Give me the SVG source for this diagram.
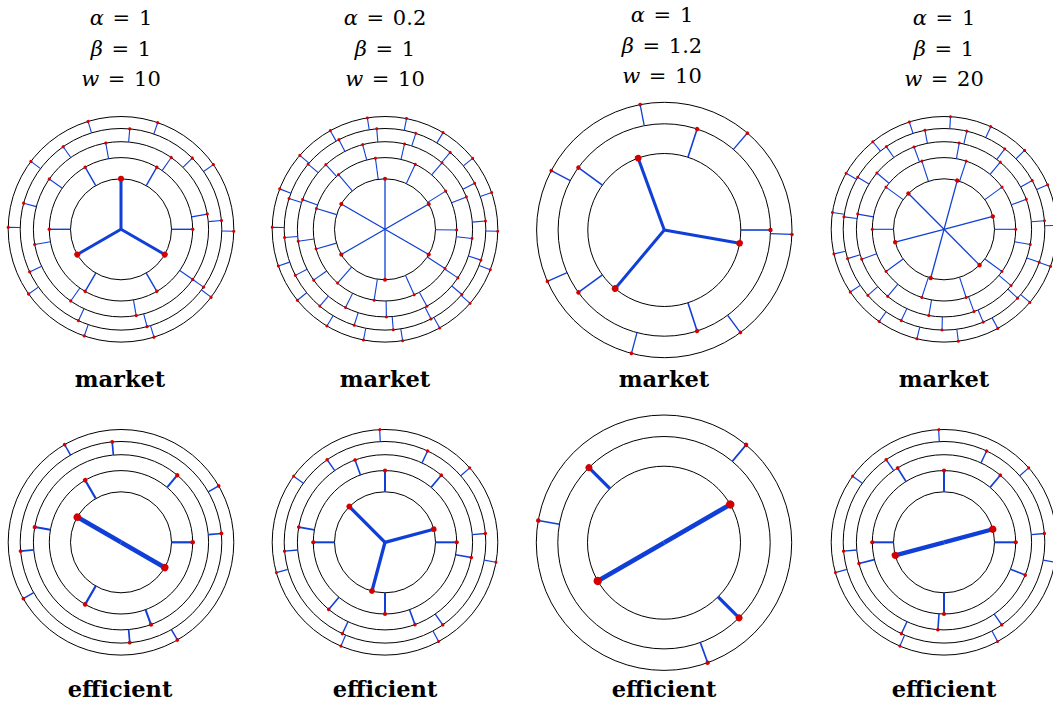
<svg xmlns="http://www.w3.org/2000/svg" xmlns:xlink="http://www.w3.org/1999/xlink" width="1053" height="707" viewBox="0 0 1053 707">
<style>
.ring{fill:none;stroke:#000;stroke-width:1}
.e{stroke:#0f3fd6;fill:none}
.d{fill:#d40000}
.m{font-family:"DejaVu Serif","Liberation Serif",serif;font-size:21px;text-anchor:middle;word-spacing:2px;fill:#000}
.i{font-style:italic}
.lab{font-family:"DejaVu Serif",serif;font-weight:bold;font-size:22.5px;text-anchor:middle;fill:#000}
</style>
<defs>
<g id="rings5"><circle class="ring" r="50.5"/><circle class="ring" r="71.7"/><circle class="ring" r="87.6"/><circle class="ring" r="100.8"/><circle class="ring" r="112.8"/></g>
<g id="rings3"><circle class="ring" r="76.5"/><circle class="ring" r="106.2"/><circle class="ring" r="127.7"/></g>
<g id="p1a"><line class="e" x1="0" x2="50.5" stroke-width="3"/><circle class="d" cx="50.5" r="3"/></g>
<g id="p1b"><line class="e" x1="50.5" x2="71.7" stroke-width="1.4"/><circle class="d" cx="71.7" r="1.7"/></g>
<g id="p1c"><line class="e" x1="71.7" x2="87.6" stroke-width="1.1"/><circle class="d" cx="87.6" r="1.6"/></g>
<g id="p1d"><line class="e" x1="87.6" x2="100.8" stroke-width="1.1"/><circle class="d" cx="100.8" r="1.6"/></g>
<g id="p1e"><line class="e" x1="100.8" x2="112.8" stroke-width="1.1"/><circle class="d" cx="112.8" r="1.6"/></g>
<g id="p2a"><line class="e" x1="0" x2="50.5" stroke-width="1.3"/><circle class="d" cx="50.5" r="2"/></g>
<g id="p4a"><line class="e" x1="0" x2="50.5" stroke-width="1.3"/><circle class="d" cx="50.5" r="2.2"/></g>
<g id="p2b"><line class="e" x1="50.5" x2="71.7" stroke-width="1.1"/><circle class="d" cx="71.7" r="1.5"/></g>
<g id="p2c"><line class="e" x1="71.7" x2="87.6" stroke-width="1.1"/><circle class="d" cx="87.6" r="1.5"/></g>
<g id="p2d"><line class="e" x1="87.6" x2="100.8" stroke-width="1.1"/><circle class="d" cx="100.8" r="1.5"/></g>
<g id="p2e"><line class="e" x1="100.8" x2="112.8" stroke-width="1.1"/><circle class="d" cx="112.8" r="1.5"/></g>
<g id="p3a"><line class="e" x1="0" x2="76.5" stroke-width="3"/><circle class="d" cx="76.5" r="3.3"/></g>
<g id="p3b"><line class="e" x1="76.5" x2="106.2" stroke-width="1.6"/><circle class="d" cx="106.2" r="2.2"/></g>
<g id="p3c"><line class="e" x1="106.2" x2="127.7" stroke-width="1.3"/><circle class="d" cx="127.7" r="1.8"/></g>
<g id="p5a"><line class="e" x1="0" x2="50.5" stroke-width="4.5"/><circle class="d" cx="50.5" r="3.7"/></g>
<g id="p5b"><line class="e" x1="50.5" x2="71.7" stroke-width="2.2"/><circle class="d" cx="71.7" r="2.3"/></g>
<g id="p5c"><line class="e" x1="71.7" x2="87.6" stroke-width="2"/><circle class="d" cx="87.6" r="2.1"/></g>
<g id="p5d"><line class="e" x1="87.6" x2="100.8" stroke-width="1.7"/><circle class="d" cx="100.8" r="1.9"/></g>
<g id="p5e"><line class="e" x1="100.8" x2="112.8" stroke-width="1.5"/><circle class="d" cx="112.8" r="1.8"/></g>
<g id="p6a"><line class="e" x1="0" x2="50.5" stroke-width="3.3"/><circle class="d" cx="50.5" r="2.8"/></g>
<g id="p8a"><line class="e" x1="0" x2="50.5" stroke-width="4.3"/><circle class="d" cx="50.5" r="3.6"/></g>
<g id="p6b"><line class="e" x1="50.5" x2="71.7" stroke-width="2"/><circle class="d" cx="71.7" r="2.1"/></g>
<g id="p6c"><line class="e" x1="71.7" x2="87.6" stroke-width="1.6"/><circle class="d" cx="87.6" r="1.8"/></g>
<g id="p6d"><line class="e" x1="87.6" x2="100.8" stroke-width="1.4"/><circle class="d" cx="100.8" r="1.7"/></g>
<g id="p6e"><line class="e" x1="100.8" x2="112.8" stroke-width="1.2"/><circle class="d" cx="112.8" r="1.5"/></g>
<g id="p7a"><line class="e" x1="0" x2="76.5" stroke-width="4.7"/><circle class="d" cx="76.5" r="4.2"/></g>
<g id="p7b"><line class="e" x1="76.5" x2="106.2" stroke-width="3.2"/><circle class="d" cx="106.2" r="3.4"/></g>
<g id="p7c"><line class="e" x1="106.2" x2="127.7" stroke-width="1.7"/><circle class="d" cx="127.7" r="2.2"/></g>
</defs>

<g id="labels">
<text class="m" x="121" y="25"><tspan class="i">α</tspan> = 1</text>
<text class="m" x="121" y="56"><tspan class="i">β</tspan> = 1</text>
<text class="m" x="121" y="86"><tspan class="i">w</tspan> = 10</text>
<text class="m" x="385" y="25"><tspan class="i">α</tspan> = 0.2</text>
<text class="m" x="385" y="56"><tspan class="i">β</tspan> = 1</text>
<text class="m" x="385" y="86"><tspan class="i">w</tspan> = 10</text>
<text class="m" x="662" y="22"><tspan class="i">α</tspan> = 1</text>
<text class="m" x="662" y="53"><tspan class="i">β</tspan> = 1.2</text>
<text class="m" x="662" y="83"><tspan class="i">w</tspan> = 10</text>
<text class="m" x="944" y="25"><tspan class="i">α</tspan> = 1</text>
<text class="m" x="944" y="56"><tspan class="i">β</tspan> = 1</text>
<text class="m" x="944" y="86"><tspan class="i">w</tspan> = 20</text>
<text class="lab" x="120" y="387">market</text>
<text class="lab" x="385" y="387">market</text>
<text class="lab" x="664" y="387">market</text>
<text class="lab" x="944" y="387">market</text>
<text class="lab" x="120" y="697">efficient</text>
<text class="lab" x="385" y="697">efficient</text>
<text class="lab" x="664" y="697">efficient</text>
<text class="lab" x="944" y="697">efficient</text>
</g>

<g id="panel1" transform="translate(121,229.3)">
<use href="#rings5"/>
<g id="p1-connectors">
<use href="#p1a" transform="rotate(-90)"/><use href="#p1a" transform="rotate(-210)"/><use href="#p1a" transform="rotate(-330)"/>
<use href="#p1b" transform="rotate(0)"/><use href="#p1b" transform="rotate(-60)"/><use href="#p1b" transform="rotate(-120)"/><use href="#p1b" transform="rotate(-180)"/><use href="#p1b" transform="rotate(-240)"/><use href="#p1b" transform="rotate(-300)"/>
<use href="#p1c" transform="rotate(-10)"/><use href="#p1c" transform="rotate(-55)"/><use href="#p1c" transform="rotate(-100)"/><use href="#p1c" transform="rotate(-145)"/><use href="#p1c" transform="rotate(-190)"/><use href="#p1c" transform="rotate(-235)"/><use href="#p1c" transform="rotate(-280)"/><use href="#p1c" transform="rotate(-325)"/>
<use href="#p1d" transform="rotate(-5)"/><use href="#p1d" transform="rotate(-45)"/><use href="#p1d" transform="rotate(-85)"/><use href="#p1d" transform="rotate(-125)"/><use href="#p1d" transform="rotate(-165)"/><use href="#p1d" transform="rotate(-205)"/><use href="#p1d" transform="rotate(-245)"/><use href="#p1d" transform="rotate(-285)"/><use href="#p1d" transform="rotate(-325)"/>
<use href="#p1e" transform="rotate(1)"/><use href="#p1e" transform="rotate(-35)"/><use href="#p1e" transform="rotate(-71)"/><use href="#p1e" transform="rotate(-107)"/><use href="#p1e" transform="rotate(-143)"/><use href="#p1e" transform="rotate(-179)"/><use href="#p1e" transform="rotate(-215)"/><use href="#p1e" transform="rotate(-251)"/><use href="#p1e" transform="rotate(-287)"/><use href="#p1e" transform="rotate(-323)"/>
</g>
</g>

<g id="panel2" transform="translate(385,229.3)">
<use href="#rings5"/>
<g id="p2-connectors">
<use href="#p2a" transform="rotate(-30)"/><use href="#p2a" transform="rotate(-90)"/><use href="#p2a" transform="rotate(-150)"/><use href="#p2a" transform="rotate(-210)"/><use href="#p2a" transform="rotate(-270)"/><use href="#p2a" transform="rotate(-330)"/>
<use href="#p2b" transform="rotate(0.5)"/><use href="#p2b" transform="rotate(-32.2)"/><use href="#p2b" transform="rotate(-65)"/><use href="#p2b" transform="rotate(-97.7)"/><use href="#p2b" transform="rotate(-130.4)"/><use href="#p2b" transform="rotate(-163.1)"/><use href="#p2b" transform="rotate(-195.9)"/><use href="#p2b" transform="rotate(-228.6)"/><use href="#p2b" transform="rotate(-261.3)"/><use href="#p2b" transform="rotate(-294)"/><use href="#p2b" transform="rotate(-326.8)"/>
<use href="#p2c" transform="rotate(-21.7)"/><use href="#p2c" transform="rotate(-49.4)"/><use href="#p2c" transform="rotate(-77.1)"/><use href="#p2c" transform="rotate(-104.8)"/><use href="#p2c" transform="rotate(-132.5)"/><use href="#p2c" transform="rotate(-160.2)"/><use href="#p2c" transform="rotate(-187.8)"/><use href="#p2c" transform="rotate(-215.5)"/><use href="#p2c" transform="rotate(-243.2)"/><use href="#p2c" transform="rotate(-270.9)"/><use href="#p2c" transform="rotate(-298.6)"/><use href="#p2c" transform="rotate(-326.3)"/><use href="#p2c" transform="rotate(-354)"/>
<use href="#p2d" transform="rotate(-4.7)"/><use href="#p2d" transform="rotate(-27.2)"/><use href="#p2d" transform="rotate(-49.7)"/><use href="#p2d" transform="rotate(-72.2)"/><use href="#p2d" transform="rotate(-94.7)"/><use href="#p2d" transform="rotate(-117.2)"/><use href="#p2d" transform="rotate(-139.7)"/><use href="#p2d" transform="rotate(-162.2)"/><use href="#p2d" transform="rotate(-184.7)"/><use href="#p2d" transform="rotate(-207.2)"/><use href="#p2d" transform="rotate(-229.7)"/><use href="#p2d" transform="rotate(-252.2)"/><use href="#p2d" transform="rotate(-274.7)"/><use href="#p2d" transform="rotate(-297.2)"/><use href="#p2d" transform="rotate(-319.7)"/><use href="#p2d" transform="rotate(-342.2)"/>
<use href="#p2e" transform="rotate(1)"/><use href="#p2e" transform="rotate(-19)"/><use href="#p2e" transform="rotate(-39)"/><use href="#p2e" transform="rotate(-59)"/><use href="#p2e" transform="rotate(-79)"/><use href="#p2e" transform="rotate(-99)"/><use href="#p2e" transform="rotate(-119)"/><use href="#p2e" transform="rotate(-139)"/><use href="#p2e" transform="rotate(-159)"/><use href="#p2e" transform="rotate(-179)"/><use href="#p2e" transform="rotate(-199)"/><use href="#p2e" transform="rotate(-219)"/><use href="#p2e" transform="rotate(-239)"/><use href="#p2e" transform="rotate(-259)"/><use href="#p2e" transform="rotate(-279)"/><use href="#p2e" transform="rotate(-299)"/><use href="#p2e" transform="rotate(-319)"/><use href="#p2e" transform="rotate(-339)"/>
</g>
</g>

<g id="panel3" transform="translate(664.3,230)">
<use href="#rings3"/>
<g id="p3-connectors">
<use href="#p3a" transform="rotate(-110)"/><use href="#p3a" transform="rotate(-230)"/><use href="#p3a" transform="rotate(-350)"/>
<use href="#p3b" transform="rotate(0)"/><use href="#p3b" transform="rotate(-72)"/><use href="#p3b" transform="rotate(-144)"/><use href="#p3b" transform="rotate(-216)"/><use href="#p3b" transform="rotate(-288)"/>
<use href="#p3c" transform="rotate(2)"/><use href="#p3c" transform="rotate(-49.4)"/><use href="#p3c" transform="rotate(-100.9)"/><use href="#p3c" transform="rotate(-152.3)"/><use href="#p3c" transform="rotate(-203.7)"/><use href="#p3c" transform="rotate(-255.1)"/><use href="#p3c" transform="rotate(-306.6)"/>
</g>
</g>

<g id="panel4" transform="translate(944,229.3)">
<use href="#rings5"/>
<g id="p4-connectors">
<use href="#p4a" transform="rotate(-14.8)"/><use href="#p4a" transform="rotate(-74.8)"/><use href="#p4a" transform="rotate(-134.8)"/><use href="#p4a" transform="rotate(-194.8)"/><use href="#p4a" transform="rotate(-254.8)"/><use href="#p4a" transform="rotate(-314.8)"/>
<use href="#p2b" transform="rotate(0)"/><use href="#p2b" transform="rotate(-36)"/><use href="#p2b" transform="rotate(-72)"/><use href="#p2b" transform="rotate(-108)"/><use href="#p2b" transform="rotate(-144)"/><use href="#p2b" transform="rotate(-180)"/><use href="#p2b" transform="rotate(-216)"/><use href="#p2b" transform="rotate(-252)"/><use href="#p2b" transform="rotate(-288)"/><use href="#p2b" transform="rotate(-324)"/>
<use href="#p2c" transform="rotate(-20)"/><use href="#p2c" transform="rotate(-50)"/><use href="#p2c" transform="rotate(-80)"/><use href="#p2c" transform="rotate(-110)"/><use href="#p2c" transform="rotate(-140)"/><use href="#p2c" transform="rotate(-170)"/><use href="#p2c" transform="rotate(-200)"/><use href="#p2c" transform="rotate(-230)"/><use href="#p2c" transform="rotate(-260)"/><use href="#p2c" transform="rotate(-290)"/><use href="#p2c" transform="rotate(-320)"/><use href="#p2c" transform="rotate(-350)"/>
<use href="#p2d" transform="rotate(-4.9)"/><use href="#p2d" transform="rotate(-28.9)"/><use href="#p2d" transform="rotate(-52.9)"/><use href="#p2d" transform="rotate(-76.9)"/><use href="#p2d" transform="rotate(-100.9)"/><use href="#p2d" transform="rotate(-124.9)"/><use href="#p2d" transform="rotate(-148.9)"/><use href="#p2d" transform="rotate(-172.9)"/><use href="#p2d" transform="rotate(-196.9)"/><use href="#p2d" transform="rotate(-220.9)"/><use href="#p2d" transform="rotate(-244.9)"/><use href="#p2d" transform="rotate(-268.9)"/><use href="#p2d" transform="rotate(-292.9)"/><use href="#p2d" transform="rotate(-316.9)"/><use href="#p2d" transform="rotate(-340.9)"/>
<use href="#p2e" transform="rotate(-2)"/><use href="#p2e" transform="rotate(-23.2)"/><use href="#p2e" transform="rotate(-44.4)"/><use href="#p2e" transform="rotate(-65.5)"/><use href="#p2e" transform="rotate(-86.7)"/><use href="#p2e" transform="rotate(-107.9)"/><use href="#p2e" transform="rotate(-129.1)"/><use href="#p2e" transform="rotate(-150.2)"/><use href="#p2e" transform="rotate(-171.4)"/><use href="#p2e" transform="rotate(-192.6)"/><use href="#p2e" transform="rotate(-213.8)"/><use href="#p2e" transform="rotate(-234.9)"/><use href="#p2e" transform="rotate(-256.1)"/><use href="#p2e" transform="rotate(-277.3)"/><use href="#p2e" transform="rotate(-298.5)"/><use href="#p2e" transform="rotate(-319.6)"/><use href="#p2e" transform="rotate(-340.8)"/>
</g>
</g>

<g id="panel5" transform="translate(121,542.3)">
<use href="#rings5"/>
<g id="p5-connectors">
<use href="#p5a" transform="rotate(-150)"/><use href="#p5a" transform="rotate(-330)"/>
<use href="#p5b" transform="rotate(0)"/><use href="#p5b" transform="rotate(-120)"/><use href="#p5b" transform="rotate(-240)"/>
<use href="#p5c" transform="rotate(-50)"/><use href="#p5c" transform="rotate(-170)"/><use href="#p5c" transform="rotate(-290)"/>
<use href="#p5d" transform="rotate(-5)"/><use href="#p5d" transform="rotate(-95)"/><use href="#p5d" transform="rotate(-185)"/><use href="#p5d" transform="rotate(-275)"/>
<use href="#p5e" transform="rotate(-30)"/><use href="#p5e" transform="rotate(-120)"/><use href="#p5e" transform="rotate(-210)"/><use href="#p5e" transform="rotate(-300)"/>
</g>
</g>

<g id="panel6" transform="translate(385,542.3)">
<use href="#rings5"/>
<g id="p6-connectors">
<use href="#p6a" transform="rotate(-15)"/><use href="#p6a" transform="rotate(-135)"/><use href="#p6a" transform="rotate(-255)"/>
<use href="#p6b" transform="rotate(0)"/><use href="#p6b" transform="rotate(-90)"/><use href="#p6b" transform="rotate(-180)"/><use href="#p6b" transform="rotate(-270)"/>
<use href="#p6c" transform="rotate(-50)"/><use href="#p6c" transform="rotate(-110)"/><use href="#p6c" transform="rotate(-170)"/><use href="#p6c" transform="rotate(-230)"/><use href="#p6c" transform="rotate(-290)"/><use href="#p6c" transform="rotate(-350)"/>
<use href="#p6d" transform="rotate(-5)"/><use href="#p6d" transform="rotate(-65)"/><use href="#p6d" transform="rotate(-125)"/><use href="#p6d" transform="rotate(-185)"/><use href="#p6d" transform="rotate(-245)"/><use href="#p6d" transform="rotate(-305)"/>
<use href="#p6e" transform="rotate(-41.3)"/><use href="#p6e" transform="rotate(-92.7)"/><use href="#p6e" transform="rotate(-144.1)"/><use href="#p6e" transform="rotate(-195.6)"/><use href="#p6e" transform="rotate(-247)"/><use href="#p6e" transform="rotate(-298.4)"/><use href="#p6e" transform="rotate(-349.8)"/>
</g>
</g>

<g id="panel7" transform="translate(664,542.7)">
<use href="#rings3"/>
<g id="p7-connectors">
<use href="#p7a" transform="rotate(-30)"/><use href="#p7a" transform="rotate(-210)"/>
<use href="#p7b" transform="rotate(-135)"/><use href="#p7b" transform="rotate(-315)"/>
<use href="#p7c" transform="rotate(-50)"/><use href="#p7c" transform="rotate(-170)"/><use href="#p7c" transform="rotate(-290)"/>
</g>
</g>

<g id="panel8" transform="translate(944,542.3)">
<use href="#rings5"/>
<g id="p8-connectors">
<use href="#p8a" transform="rotate(-15)"/><use href="#p8a" transform="rotate(-195)"/>
<use href="#p6b" transform="rotate(0)"/><use href="#p6b" transform="rotate(-90)"/><use href="#p6b" transform="rotate(-180)"/><use href="#p6b" transform="rotate(-270)"/>
<use href="#p6c" transform="rotate(-50)"/><use href="#p6c" transform="rotate(-122)"/><use href="#p6c" transform="rotate(-194)"/><use href="#p6c" transform="rotate(-266)"/><use href="#p6c" transform="rotate(-338)"/>
<use href="#p6d" transform="rotate(-5)"/><use href="#p6d" transform="rotate(-65)"/><use href="#p6d" transform="rotate(-125)"/><use href="#p6d" transform="rotate(-185)"/><use href="#p6d" transform="rotate(-245)"/><use href="#p6d" transform="rotate(-305)"/>
<use href="#p6e" transform="rotate(-41.3)"/><use href="#p6e" transform="rotate(-92.7)"/><use href="#p6e" transform="rotate(-144.1)"/><use href="#p6e" transform="rotate(-195.6)"/><use href="#p6e" transform="rotate(-247)"/><use href="#p6e" transform="rotate(-298.4)"/><use href="#p6e" transform="rotate(-349.8)"/>
</g>
</g>
</svg>
